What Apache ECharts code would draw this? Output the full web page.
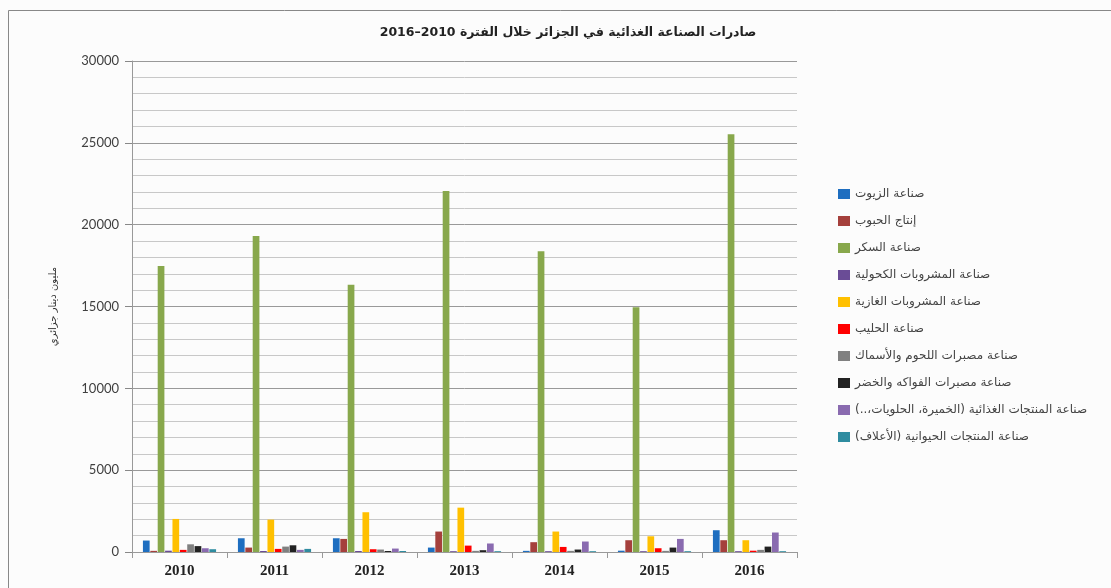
<!DOCTYPE html>
<html>
<head>
<meta charset="utf-8">
<script src="https://cdn.jsdelivr.net/npm/echarts@6/dist/echarts.min.js"></script>
<style>
html,body{margin:0;padding:0;background:#fcfcfc;}
#c{width:1111px;height:588px;direction:rtl;}
</style>
</head>
<body>
<div id="c" dir="rtl"></div>
<script>
const categories = ['2010', '2011', '2012', '2013', '2014', '2015', '2016'];
const seriesNames = [
  'صناعة الزيوت',
  'إنتاج الحبوب',
  'صناعة السكر',
  'صناعة المشروبات الكحولية',
  'صناعة المشروبات الغازية',
  'صناعة الحليب',
  'صناعة مصبرات اللحوم والأسماك',
  'صناعة مصبرات الفواكه والخضر',
  'صناعة المنتجات الغذائية (الخميرة، الحلويات،..)',
  'صناعة المنتجات الحيوانية (الأعلاف)'
];
const oils = [700, 840, 840, 270, 70, 80, 1330];
const grains = [70, 270, 800, 1250, 600, 720, 720];
const sugar = [17470, 19300, 16330, 22050, 18380, 14960, 25530];
const alcohol = [80, 60, 60, 50, 50, 50, 50];
const softDrinks = [2020, 1980, 2430, 2710, 1250, 960, 720];
const milk = [130, 190, 170, 390, 310, 230, 80];
const meatFish = [470, 330, 150, 70, 70, 70, 130];
const fruitVeg = [360, 410, 60, 110, 150, 270, 330];
const foodProducts = [230, 130, 210, 520, 640, 800, 1190];
const feed = [170, 190, 60, 50, 50, 50, 50];
const yTicks = [0, 5000, 10000, 15000, 20000, 25000, 30000];

const allValues = [oils, grains, sugar, alcohol, softDrinks, milk, meatFish, fruitVeg, foodProducts, feed];
const colors = ['#1E6EC0', '#A5403C', '#88A84C', '#6A4C96', '#FFC000', '#FF0000', '#808080', '#222222', '#8A6BB0', '#2F8CA0'];

const chart = echarts.init(document.getElementById('c'), null, {renderer: 'canvas'});
chart.setOption({
  backgroundColor: '#fcfcfc',
  animation: false,
  color: colors,
  title: {
    text: 'صادرات الصناعة الغذائية في الجزائر خلال الفترة 2010–2016',
    left: 563,
    top: 21,
    textAlign: 'center',
    textStyle: {fontFamily: 'DejaVu Sans', fontWeight: 'bold', fontSize: 12.5, color: '#222'}
  },
  graphic: [{
    type: 'rect',
    shape: {x: 8.5, y: 10.5, width: 1120, height: 620},
    style: {fill: 'none', stroke: '#888', lineWidth: 1},
    silent: true
  }],
  legend: {
    orient: 'vertical',
    left: 833,
    top: 182,
    itemWidth: 12,
    itemHeight: 10,
    itemGap: 13,
    icon: 'rect',
    textStyle: {fontFamily: 'DejaVu Sans', fontSize: 12, color: '#444', lineHeight: 14},
    data: seriesNames
  },
  grid: {left: 132, right: 314, top: 61, bottom: 36, containLabel: false},
  xAxis: {
    type: 'category',
    data: categories,
    axisLine: {show: true, lineStyle: {color: '#999'}},
    axisTick: {show: true, length: 6, lineStyle: {color: '#999'}},
    axisLabel: {fontFamily: 'Liberation Serif', fontWeight: 'bold', fontSize: 15, color: '#222', margin: 12}
  },
  yAxis: {
    type: 'value',
    min: yTicks[0],
    max: yTicks[yTicks.length - 1],
    interval: 5000,
    name: 'مليون دينار جزائري',
    nameLocation: 'middle',
    nameRotate: 90,
    nameGap: 74,
    nameTextStyle: {fontFamily: 'DejaVu Sans', fontSize: 10, color: '#333'},
    axisLine: {show: true, lineStyle: {color: '#999'}},
    axisTick: {show: true, length: 7, lineStyle: {color: '#888'}},
    axisLabel: {fontFamily: 'Lato', fontSize: 13, color: '#404040', margin: 13, formatter: v => String(v)},
    splitLine: {show: true, lineStyle: {color: '#999', width: 1}},
    minorTick: {show: false, splitNumber: 5},
    minorSplitLine: {show: true, lineStyle: {color: '#c8c8c8', width: 1}}
  },
  series: seriesNames.map((n, i) => ({
    name: n,
    type: 'bar',
    data: allValues[i],
    barGap: '10%',
    barCategoryGap: '23%'
  }))
});
</script>
</body>
</html>
